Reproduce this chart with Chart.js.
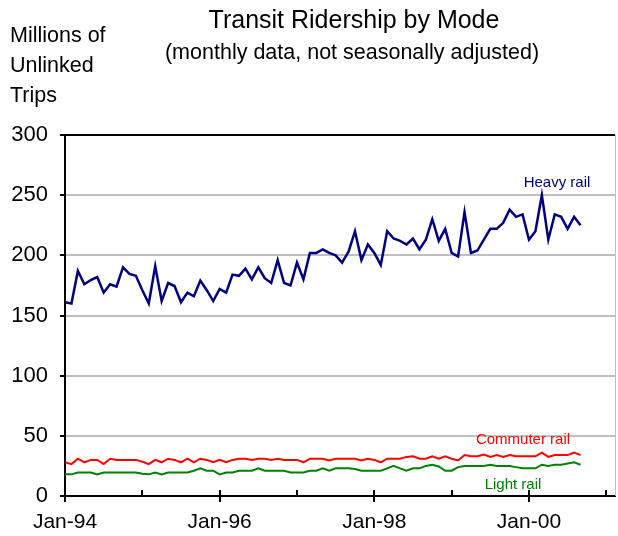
<!DOCTYPE html>
<html>
<head>
<meta charset="utf-8">
<script src="https://cdn.jsdelivr.net/npm/chart.js@4"></script>
<style>
html,body{margin:0;padding:0;background:#fff;}
#wrap{width:618px;height:536px;}
</style>
</head>
<body>
<div id="wrap"><canvas id="c" width="618" height="536"></canvas></div>
<script>
// Months since Jan-1994 (index 0 = Jan-94)
const tickMonths = [0, 24, 48, 72];
const tickLabels = ['Jan-94', 'Jan-96', 'Jan-98', 'Jan-00'];
const yTicks = [0, 50, 100, 150, 200, 250, 300];

const heavyRail = [161,160,187,176,179.5,182,169,176,174,190,
  184.5,183,171,160,191,162,177,174.5,161,169,
  166,179,171,162,172,169,184,183,189,180,
  190,181,177,196,177,175,194,180,202,202,
  205,202,200,194,203,220,196,209,202,192,
  220,214,212,209,214,205,213,230,212,222,
  202,199,236,202,204,213,222,222,227,238,
  232,234,213,220,250,213,234,232,222,232,
  225];
const commuterRail = [28,26.5,31,28,30,30,26.5,31,30,30,
  30,30,28.5,26.5,30,28,31,30,28,31,
  28,31,30,28,30,28,30,31,31,30,
  31,31,30,31,30,30,30,28,31,31,
  31,29.5,31,31,31,31,29.5,31,30,28,
  31,31,31,32.5,33,31,31,33,31,33,
  31,29.5,34,33,33,34.5,32.5,34,32.5,34,
  33,33,33,33,36,32.5,34,34,34,36,
  34];
const lightRail = [18,18,19.5,19.5,19.5,18,19.5,19.5,19.5,19.5,
  19.5,19.5,18.5,18,19.5,18,19.5,19.5,19.5,19.5,
  21,23,21,21,18,19.5,19.5,21,21,21,
  23,21,21,21,21,19.5,19.5,19.5,21,21,
  23,21,23,23,23,22.5,21,21,21,21,
  23,25,23,21,23,23,25,26,24.5,21,
  21,24,25,25,25,25,26,25,25,25,
  24,23,23,23,26,25,26,26,27,28,
  26];

const toXY = arr => arr.map((v, i) => ({x: i, y: v}));
const FONT = '"Liberation Sans", Arial, sans-serif';

const decor = {
  id: 'decor',
  afterDraw(chart) {
    const ctx = chart.ctx;
    const a = chart.chartArea;
    const xs = chart.scales.x;
    ctx.save();
    // right border
    ctx.strokeStyle = '#c0c0c0';
    ctx.lineWidth = 1;
    ctx.beginPath();
    ctx.moveTo(a.right + 0.5, a.top);
    ctx.lineTo(a.right + 0.5, a.bottom);
    ctx.stroke();
    // top border
    ctx.strokeStyle = '#000';
    ctx.lineWidth = 2;
    ctx.beginPath();
    ctx.moveTo(a.left, a.top);
    ctx.lineTo(a.right, a.top);
    ctx.stroke();
    // x tick marks
    ctx.lineWidth = 2;
    for (let m = 0; m <= 84; m += 12) {
      const px = Math.round(xs.getPixelForValue(m));
      ctx.beginPath();
      if (m % 24 === 0) {
        ctx.moveTo(px, a.bottom - 6);
        ctx.lineTo(px, a.bottom + 6);
      } else {
        ctx.moveTo(px, a.bottom - 6);
        ctx.lineTo(px, a.bottom);
      }
      ctx.stroke();
    }
    // texts
    ctx.fillStyle = '#000';
    ctx.textBaseline = 'middle';
    ctx.textAlign = 'center';
    ctx.font = '25px ' + FONT;
    ctx.fillText('Transit Ridership by Mode', 354, 21);
    ctx.font = '21.5px ' + FONT;
    ctx.fillText('(monthly data, not seasonally adjusted)', 352, 53);
    ctx.textAlign = 'left';
    ctx.font = '21.5px ' + FONT;
    ctx.fillText('Millions of', 10, 36);
    ctx.fillText('Unlinked', 10, 66);
    ctx.fillText('Trips', 10, 96);
    ctx.textAlign = 'center';
    ctx.textBaseline = 'alphabetic';
    ctx.font = '15px ' + FONT;
    ctx.fillStyle = '#000080';
    ctx.fillText('Heavy rail', 557, 187);
    ctx.fillStyle = '#ff0000';
    ctx.fillText('Commuter rail', 523, 444);
    ctx.fillStyle = '#008000';
    ctx.fillText('Light rail', 513, 489);
    ctx.restore();
  }
};

new Chart(document.getElementById('c'), {
  type: 'line',
  data: {
    datasets: [
      {label: 'Heavy rail', data: toXY(heavyRail), borderColor: '#000080', borderWidth: 2.5},
      {label: 'Commuter rail', data: toXY(commuterRail), borderColor: '#ff0000', borderWidth: 2},
      {label: 'Light rail', data: toXY(lightRail), borderColor: '#008000', borderWidth: 2}
    ]
  },
  options: {
    responsive: false,
    animation: false,
    devicePixelRatio: 1,
    layout: {padding: {left: 0, top: 135, right: 3, bottom: 0}},
    elements: {point: {radius: 0}, line: {tension: 0}},
    plugins: {legend: {display: false}, tooltip: {enabled: false}, title: {display: false}},
    scales: {
      x: {
        type: 'linear',
        min: 0,
        max: 85.35,
        afterBuildTicks: s => { s.ticks = tickMonths.map(v => ({value: v})); },
        afterFit: s => { s.height = 40; },
        grid: {display: false, drawTicks: false},
        border: {display: true, color: '#000', width: 2},
        ticks: {
          autoSkip: false,
          maxRotation: 0,
          padding: 14,
          color: '#000',
          font: {family: FONT, size: 21},
          callback: v => { const k = tickMonths.indexOf(v); return k >= 0 ? tickLabels[k] : ''; }
        }
      },
      y: {
        min: 0,
        max: 300,
        afterBuildTicks: s => { s.ticks = yTicks.map(v => ({value: v})); },
        afterFit: s => { s.width = 65; },
        grid: {
          color: '#c0c0c0',
          lineWidth: 2,
          drawTicks: true,
          tickLength: 5,
          tickColor: '#000'
        },
        border: {display: true, color: '#000', width: 2},
        ticks: {
          padding: 12,
          color: '#000',
          font: {family: FONT, size: 22}
        }
      }
    }
  },
  plugins: [decor]
});
</script>
</body>
</html>
